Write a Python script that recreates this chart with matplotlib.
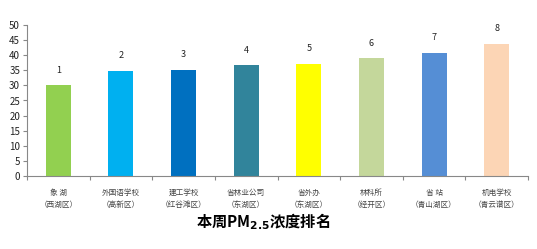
import matplotlib
matplotlib.use("Agg")
import matplotlib.pyplot as plt
import numpy as np

plt.rcParams['font.family'] = ['Noto Sans CJK SC', 'DejaVu Sans']

sites = ["象 湖", "外国语学校", "建工学校", "省林业公司", "省外办", "林科所", "省 站", "机电学校"]
districts = ["（西湖区）", "（高新区）", "（红谷滩区）", "（东湖区）", "（东湖区）", "（经开区）", "（青山湖区）", "（青云谱区）"]
values = [30.1, 34.8, 35.1, 36.6, 37.2, 39.0, 40.8, 43.8]
ranks = [1, 2, 3, 4, 5, 6, 7, 8]
colors = ["#92D050", "#00B0F0", "#0070C0", "#31849B", "#FFFF00", "#C4D79B", "#558ED5", "#FCD5B5"]
yticks = [0, 5, 10, 15, 20, 25, 30, 35, 40, 45, 50]

fig = plt.figure(figsize=(5.37, 2.49), dpi=100)
ax = fig.add_axes([27/537, 1-176/249, (528-27)/537, (176-25)/249])
x = np.arange(len(values))
ax.bar(x, values, width=0.4, color=colors, edgecolor='none')
for xi, v, r in zip(x, values, ranks):
    ax.text(xi, v + 3.5, str(r), ha='center', va='bottom', fontsize=6.5, color='#222222')
ax.set_xlim(-0.5, len(values) - 0.5)
ax.set_ylim(0, 50)
ax.set_yticks(yticks)
ax.set_yticklabels([str(t) for t in yticks], fontsize=7, color='#222222')
ax.set_xticks(np.arange(len(values) + 1) - 0.5)
ax.set_xticklabels([])
ax.set_xticks(x, minor=True)
ax.set_xticklabels([s + "\n" + d for s, d in zip(sites, districts)], minor=True, fontsize=5.5, color='#444444', linespacing=1.7)
ax.tick_params(axis='x', which='minor', length=0, pad=9)
ax.tick_params(axis='x', which='major', length=3, color='#888888', direction='out')
ax.tick_params(axis='y', length=3, color='#888888', pad=2)
for s in ['top', 'right']:
    ax.spines[s].set_visible(False)
for s in ['left', 'bottom']:
    ax.spines[s].set_color('#888888')
    ax.spines[s].set_linewidth(0.8)
fig.text(263/537, 1-222/249, r"本周PM$_{\mathbf{2.5}}$浓度排名", ha='center', va='center', fontsize=11, fontweight='bold')
fig.savefig("out.png", dpi=100)
